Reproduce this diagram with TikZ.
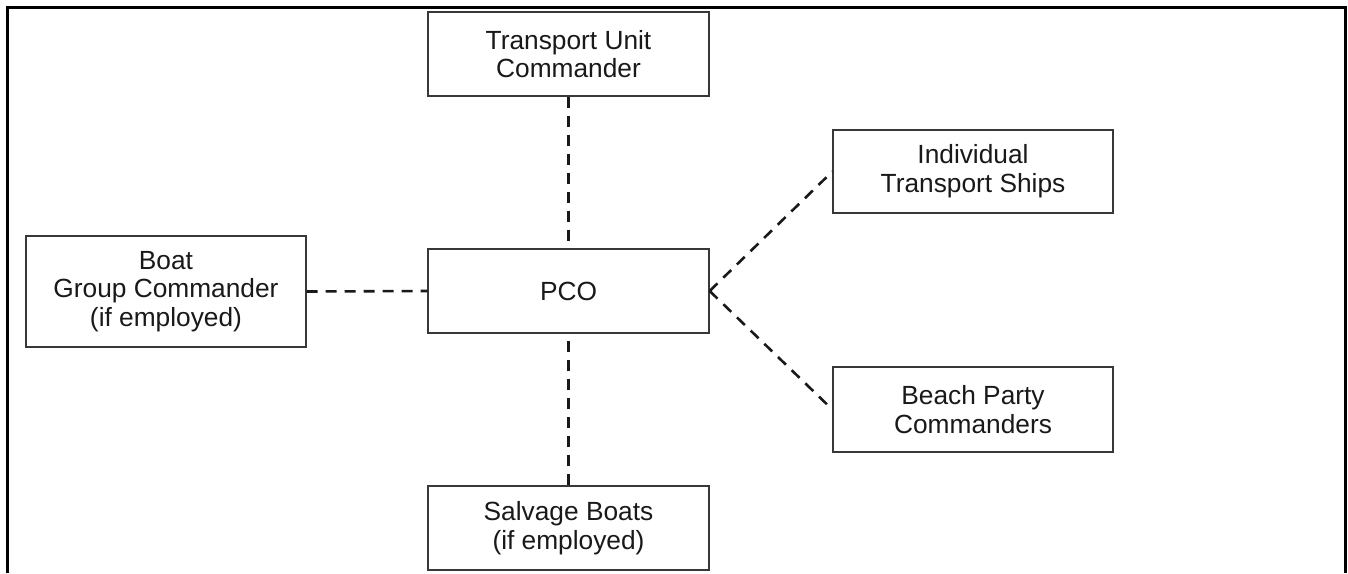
\documentclass[tikz,border=0pt]{standalone}
\usepackage{fontspec}
\setmainfont{Liberation Sans}
\begin{document}
\begin{tikzpicture}[x=1pt,y=-1pt,
  box/.style={draw=black!78, line width=1.3pt, fill=white, inner sep=0pt,
    align=center, font=\fontsize{26.3}{28.8}\selectfont, text=black!90},
  wide/.style={minimum width=281pt, minimum height=84pt},
  link/.style={draw=black!90, line width=2.6pt, dash pattern=on 11pt off 8pt},
  frame/.style={draw=black, line width=3pt}]
  \useasboundingbox (0,0) rectangle (1348,573);

  % open outer frame
  \draw[frame] (7,573) -- (7,7) -- (1345,7) -- (1345,573);

  % boxes
  \node[box, wide] (tuc) at (568.5,54) {Transport Unit\\Commander};
  \node[box, wide] (pco) at (568.5,291) {PCO};
  \node[box, wide] (sal) at (568.5,528) {Salvage Boats\\(if employed)};
  \node[box, minimum width=280pt, minimum height=111pt] (bgc) at (166,291.5)
    {Boat\\Group Commander\\(if employed)};
  \node[box, minimum width=280pt, minimum height=83pt] (its) at (973,171.5)
    {Individual\\Transport Ships};
  \node[box, minimum width=280pt, minimum height=85pt] (bpc) at (973,409.5)
    {Beach Party\\Commanders};

  % dashed links
  \draw[link] (tuc.south) -- (pco.north);
  \draw[link] (sal.north) -- (pco.south);
  \draw[link] (bgc.east) -- (pco.west);
  \draw[link] (pco.east) -- (its.west);
  \draw[link] (pco.east) -- (bpc.west);
\end{tikzpicture}
\end{document}
